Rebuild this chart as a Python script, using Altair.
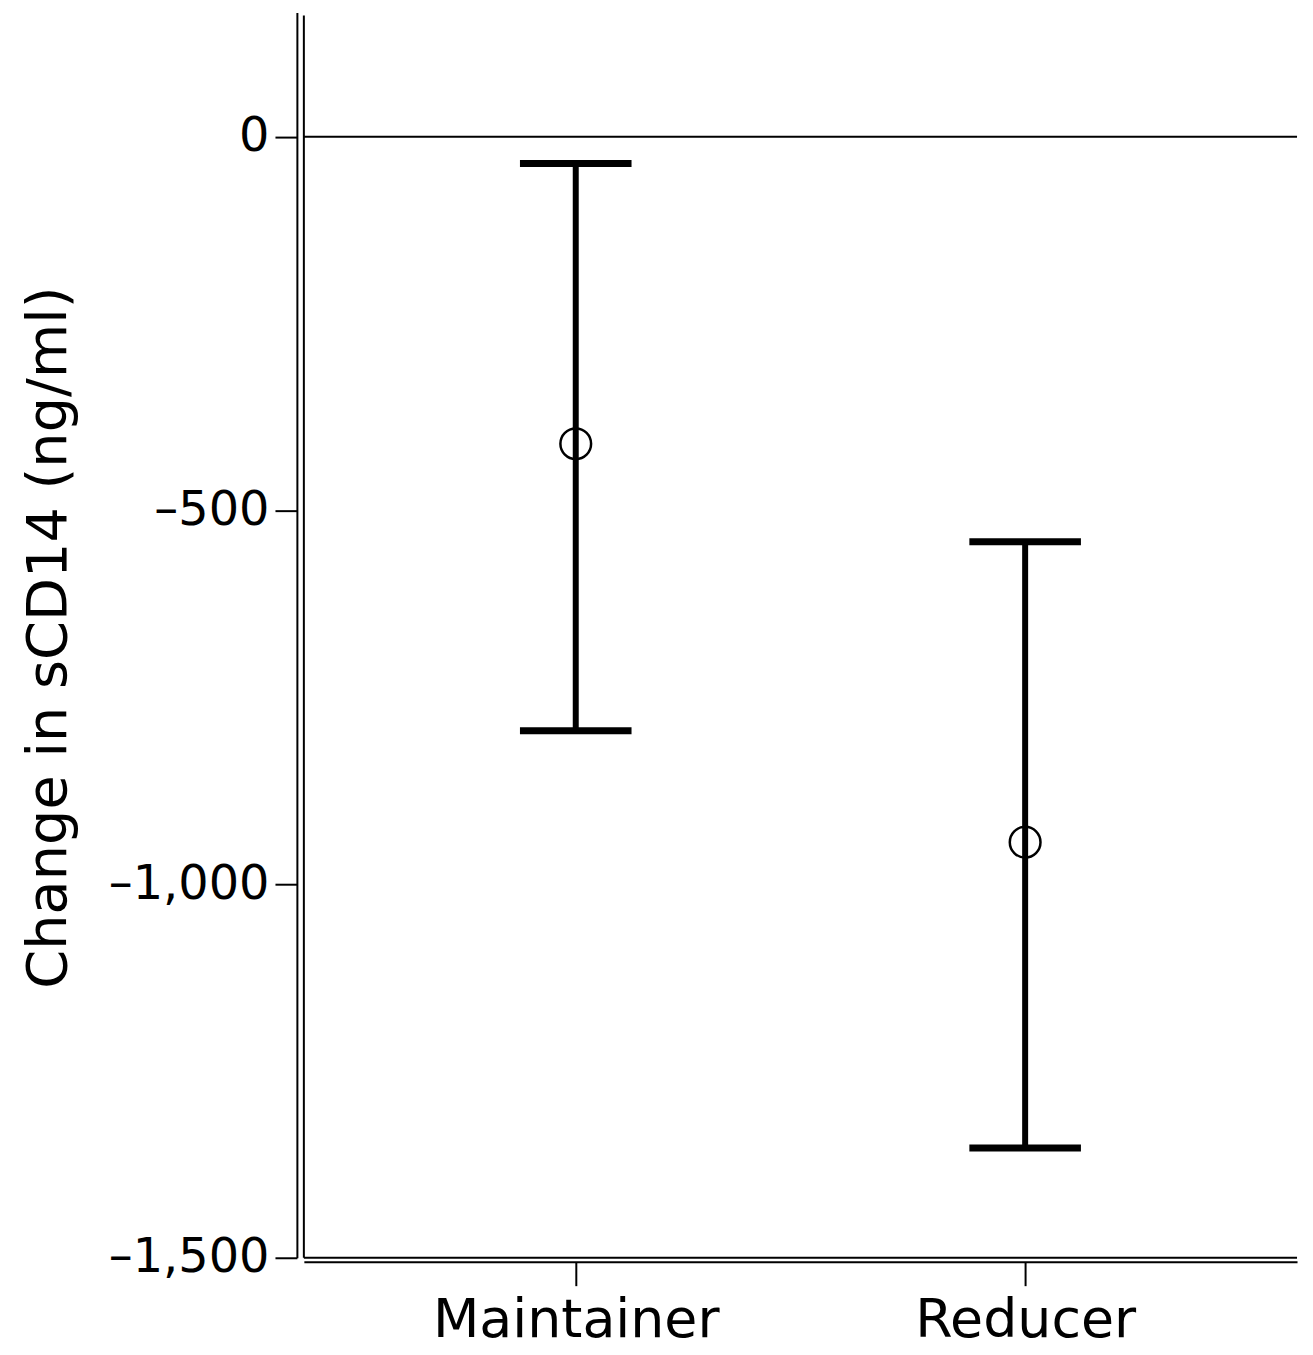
import altair as alt
import pandas as pd

groups = ["Maintainer", "Reducer"]
means = [-411, -944]
lower = [-795, -1353]
upper = [-36, -542]

df = pd.DataFrame({"group": groups, "mean": means, "lower": lower, "upper": upper})

W, H = 997, 1250
FONT = "DejaVu Sans"

x_axis = alt.Axis(
    title=None, offset=4, domainWidth=2, domainColor="black",
    tickSize=24, tickWidth=2, tickColor="black",
    labelFontSize=54, labelFont=FONT, labelColor="black",
    labelPadding=8, labelAngle=0, labelLimit=1000,
)
x_enc = alt.X("group:N", scale=alt.Scale(type="point", padding=0.605, domain=groups), axis=x_axis)

y_axis = alt.Axis(
    title="Change in sCD14 (ng/ml)", values=[0, -500, -1000, -1500],
    offset=7, domainWidth=2, domainColor="black",
    tickSize=22, tickWidth=2, tickColor="black",
    labelFontSize=48, labelFont=FONT, labelColor="black", labelPadding=6, labelLimit=1000,
    labelExpr="replace(format(datum.value, ','), '\u2212', '\u2013')",
    titleFontSize=56, titleFont=FONT, titleFontWeight="normal", titleColor="black",
    titleX=-232, titleY=H / 2 + 2, titleAngle=270, titleBaseline="alphabetic", titleAlign="center",
    grid=False,
)
y_scale = alt.Scale(domain=[-1500, 166], nice=False, zero=False)


def yenc(field):
    return alt.Y(field, scale=y_scale, axis=y_axis)


base = alt.Chart(df)

zero_df = pd.DataFrame({"z": [0]})
zero_line = alt.Chart(zero_df).mark_rule(strokeWidth=2, color="black").encode(
    y=yenc("z:Q"), x=alt.value(0), x2=alt.value(W)
)

one = pd.DataFrame({"a": [1]})
inner_left = alt.Chart(one).mark_rule(strokeWidth=2, color="black").encode(
    x=alt.value(0), y=alt.value(3), y2=alt.value(H)
)
inner_bottom = alt.Chart(one).mark_rule(strokeWidth=2, color="black").encode(
    y=alt.value(H), x=alt.value(0), x2=alt.value(W)
)

bars = base.mark_rule(strokeWidth=6, color="black").encode(
    x=x_enc, y=yenc("lower:Q"), y2="upper:Q"
)
cap_up = base.mark_tick(size=112, thickness=7, color="black", opacity=1).encode(
    x=x_enc, y=yenc("upper:Q")
)
cap_lo = base.mark_tick(size=112, thickness=7, color="black", opacity=1).encode(
    x=x_enc, y=yenc("lower:Q")
)
pts = base.mark_point(shape="circle", size=950, strokeWidth=2.5, color="black",
                      filled=False, opacity=1).encode(
    x=x_enc, y=yenc("mean:Q")
)

chart = alt.layer(zero_line, bars, cap_up, cap_lo, pts, inner_left, inner_bottom).properties(
    width=W, height=H,
    background="white",
    autosize=alt.AutoSizeParams(type="none"),
    padding={"left": 297, "top": 2, "right": 8, "bottom": 90},
).configure_view(stroke=None)

chart.save("out.html", embed_options={"renderer": "svg", "actions": False})
